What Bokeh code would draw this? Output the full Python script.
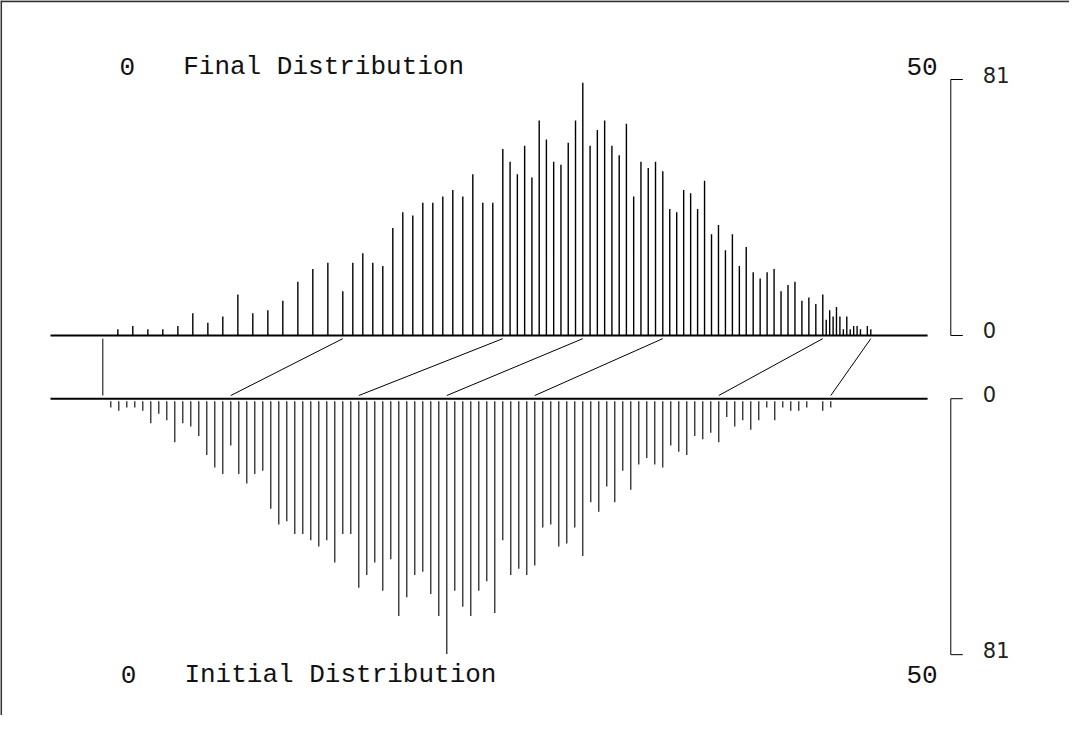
from bokeh.plotting import figure
from bokeh.models import Range1d, Span, ColumnDataSource
from bokeh.core.properties import value
from bokeh.embed import file_html
from bokeh.resources import INLINE

# ---------------- data ----------------
# grey-level bins of the initial distribution
initial_levels = list(range(92))
# counts per bin (same counts appear in both distributions)
counts = [0,
          2, 3, 2, 2, 3, 7, 4, 6, 13, 7,
          8, 11, 17, 21, 23, 14, 23, 26, 23, 22,
          34, 39, 38, 42, 42, 44, 46, 44, 51, 42,
          42, 59, 55, 51, 60, 50, 68, 62, 55, 54,
          61, 68, 80, 60, 65, 68, 60, 57, 67, 44,
          55, 53, 55, 52, 40, 39, 46, 45, 40, 49,
          32, 35, 27, 32, 22, 28, 20, 18, 20, 21,
          14, 16, 17, 11, 12, 10, 13, 5, 8, 6,
          9, 6, 2, 6, 2, 3, 3, 2, 0, 3, 2]
# level each bin is moved to in the final distribution
final_levels = [0, 1.88, 3.75, 5.63, 7.5, 9.38, 11.25, 13.13, 15, 16.88, 18.75,
                20.63, 22.5, 24.38, 26.25, 28.13, 30,
                31.25, 32.5, 33.75, 35, 36.25, 37.5, 38.75, 40, 41.25, 42.5,
                43.75, 45, 46.25, 47.5, 48.75, 50,
                50.91, 51.82, 52.73, 53.64, 54.55, 55.45, 56.36, 57.27, 58.18, 59.09, 60,
                60.91, 61.82, 62.73, 63.64, 64.55, 65.45, 66.36, 67.27, 68.18, 69.09, 70,
                70.87, 71.74, 72.61, 73.48, 74.35, 75.22, 76.09, 76.96, 77.83, 78.7,
                79.57, 80.43, 81.3, 82.17, 83.04, 83.91, 84.78, 85.65, 86.52, 87.39,
                88.26, 89.13, 90,
                90.43, 90.86, 91.29, 91.71, 92.14, 92.57, 93, 93.43, 93.86, 94.29,
                94.71, 95.14, 95.57, 96]
# mapping lines drawn between the two distributions
link_initial = [0, 16, 32, 43, 54, 77, 91]
link_final = [0, 30, 50, 60, 70, 90, 96]

# labels
top_title = "Final Distribution"
bottom_title = "Initial Distribution"
range_labels = ["0", "50"]
count_labels = ["0", "81"]
count_max = 81

# ---------------- layout constants ----------------
GAP = 20          # vertical gap (in count units) between the two baselines
INSET = 1.0       # gap between link lines and baselines
BASE_X0, BASE_X1 = -6.54, 103.1
BRACKET_X, TICK_X, LABEL_X = 106.0, 107.5, 110.0
INK = "black"
MONO = value("Liberation Mono")
TXT = "26px"

p = figure(width=1069, height=715, output_backend="svg", toolbar_location=None,
           x_range=Range1d(-12.79, 120.84), y_range=Range1d(-120.25, 106.0),
           min_border=0, x_axis_location=None, y_axis_location=None,
           outline_line_color=None, background_fill_color="white",
           border_fill_color="white")
p.grid.visible = False

# frame (top and left)
p.add_layout(Span(location=105.8, dimension="width", line_color="#333", line_width=2))
p.add_layout(Span(location=-12.72, dimension="height", line_color="#333", line_width=2))

# baselines
p.segment(x0=[BASE_X0, BASE_X0], y0=[0, -GAP], x1=[BASE_X1, BASE_X1], y1=[0, -GAP],
          line_color=INK, line_width=2)

src = ColumnDataSource(dict(
    init=initial_levels, fin=final_levels, cnt=counts,
    zero=[0] * len(counts),
    bot0=[-GAP - 0.8] * len(counts),
    bot1=[-GAP - 0.8 - c for c in counts],
))
# final distribution (upwards)
p.segment(x0="fin", y0="zero", x1="fin", y1="cnt", source=src,
          line_color=INK, line_width=1.4)
# initial distribution (downwards)
p.segment(x0="init", y0="bot0", x1="init", y1="bot1", source=src,
          line_color=INK, line_width=1.1)

# mapping lines
p.segment(x0=link_initial, y0=[-GAP + INSET] * len(link_initial),
          x1=link_final, y1=[-INSET] * len(link_final),
          line_color=INK, line_width=1)

# count brackets on the right
for y0, y1 in [(0, count_max), (-GAP, -GAP - count_max)]:
    p.segment(x0=[BRACKET_X, BRACKET_X, BRACKET_X], y0=[y0, y0, y1],
              x1=[BRACKET_X, TICK_X, TICK_X], y1=[y1, y0, y1],
              line_color=INK, line_width=1)
p.text(x=[LABEL_X] * 4, y=[count_max, 0, -GAP, -GAP - count_max],
       text=[count_labels[1], count_labels[0], count_labels[0], count_labels[1]],
       text_font=value("DejaVu Sans"), text_font_size="21px", text_color="#222",
       text_baseline="middle", text_align="left", y_offset=-5)

# range labels and titles
p.text(x=[2.1, 100.45], y=[85.0, 85.0], text=range_labels, text_font=MONO,
       text_font_size=TXT, text_color="#111", text_baseline="alphabetic")
p.text(x=[10.05], y=[85.0], text=[top_title], text_font=MONO,
       text_font_size=TXT, text_color="#111", text_baseline="alphabetic")
p.text(x=[2.25, 100.45], y=[-107.4, -107.4], text=range_labels, text_font=MONO,
       text_font_size=TXT, text_color="#111", text_baseline="alphabetic")
p.text(x=[10.2], y=[-107.4], text=[bottom_title], text_font=MONO,
       text_font_size=TXT, text_color="#111", text_baseline="alphabetic")

open("out.html", "w").write(file_html(p, INLINE))
